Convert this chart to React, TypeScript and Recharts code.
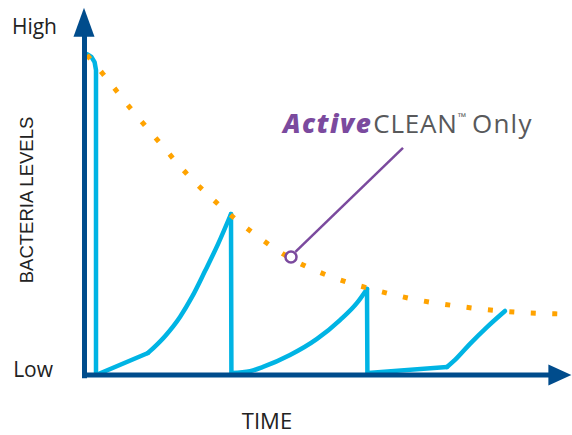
import React from "react";
import {
  LineChart,
  Line,
  XAxis,
  YAxis,
  ReferenceLine,
  ReferenceDot,
} from "recharts";

// time runs 0..120, bacteria level 0 (Low) .. 100 (High)
const timeDomain = [0, 120];
const levelDomain = [0, 100];
const levelTicks = [0, 100];
const levelTickLabels = ["Low", "High"];

// cyan: cleaning cycles (sawtooth)
const startDrop = [
  { t: 0.5, L: 91.7 },
  { t: 1.6, L: 90.9 },
  { t: 2.4, L: 89.4 },
  { t: 2.75, L: 87.1 },
  { t: 2.75, L: 0 },
];
const lead1 = [
  { t: 2.75, L: 0 },
  { t: 15.75, L: 6.3 },
];
const rise1 = [
  { t: 15.75, L: 6.3 },
  { t: 20, L: 11.1 },
  { t: 23.75, L: 16.6 },
  { t: 26.75, L: 22.3 },
  { t: 30, L: 29.7 },
  { t: 33.25, L: 37.4 },
  { t: 36.5, L: 46 },
];
const drop1 = [
  { t: 36.5, L: 46 },
  { t: 36.6, L: 0.6 },
];
const rise2 = [
  { t: 36.75, L: 0.6 },
  { t: 41.25, L: 1.1 },
  { t: 44.5, L: 2.3 },
  { t: 51.25, L: 5.7 },
  { t: 58, L: 10.3 },
  { t: 63.75, L: 15.7 },
  { t: 68, L: 20.6 },
  { t: 70.5, L: 24.6 },
];
const drop2 = [
  { t: 70.5, L: 24.6 },
  { t: 70.6, L: 0.6 },
];
const lead3 = [
  { t: 70.75, L: 0.6 },
  { t: 90.5, L: 2.3 },
];
const rise3 = [
  { t: 90.5, L: 2.3 },
  { t: 92.5, L: 4.3 },
  { t: 96.25, L: 8.9 },
  { t: 100.5, L: 13.7 },
  { t: 105, L: 18.3 },
];

// orange dotted: ActiveCLEAN only
const activeOnly = [
  { t: 0.5, L: 91.4 },
  { t: 4.5, L: 86 },
  { t: 11.5, L: 76 },
  { t: 18.5, L: 66.6 },
  { t: 25.75, L: 57.1 },
  { t: 33.5, L: 48.6 },
  { t: 42, L: 40.6 },
  { t: 51.25, L: 33.4 },
  { t: 61, L: 28.3 },
  { t: 71.5, L: 24.6 },
  { t: 82, L: 21.7 },
  { t: 93, L: 19.7 },
  { t: 103.75, L: 18.3 },
  { t: 120, L: 17.4 },
];

const calloutPoint = { t: 51.5, L: 33.7 };
const calloutLine = [
  { x: 52.6, y: 35.2 },
  { x: 79.5, y: 64.9 },
];
const calloutText = { t: 49.5, L: 69.1 };

const AXIS = "#004c8c";
const CYAN = "#00b4e4";
const ORANGE = "#ffa300";
const PURPLE = "#7b4a9e";
const GREY = "#58595b";

function LevelTick({ x, y, payload }: any) {
  const i = levelTicks.indexOf(payload.value);
  const low = i === 0;
  return (
    <text
      x={x - (low ? 4 : 0)}
      y={y + (low ? 2 : 8.5)}
      textAnchor="end"
      fontFamily="'Open Sans', sans-serif"
      fontSize={21}
      fill="#222"
    >
      {levelTickLabels[i]}
    </text>
  );
}

const UpArrow = ({ cx, cy }: any) => (
  <polygon points={`${cx},${cy} ${cx - 10.5},${cy + 29} ${cx + 10.5},${cy + 29}`} fill={AXIS} />
);
const RightArrow = ({ cx, cy }: any) => (
  <polygon points={`${cx},${cy} ${cx - 23},${cy - 10.5} ${cx - 23},${cy + 10.5}`} fill={AXIS} />
);

const CalloutLabel = ({ cx, cy }: any) => (
  <text x={cx} y={cy} fontFamily="'Open Sans', sans-serif" fontSize={26} fill={GREY}>
    <tspan fill={PURPLE} fontWeight={800} fontStyle="italic" letterSpacing={1.5}>
      Active
    </tspan>
    <tspan dx={1} letterSpacing={0.8}>CLEAN</tspan>
    <tspan fontSize={11} dy={-12}>
      ™
    </tspan>
    <tspan dy={12} dx={6} letterSpacing={1.2}>
      Only
    </tspan>
  </text>
);

const cyanProps = {
  dataKey: "L",
  stroke: CYAN,
  strokeWidth: 4.5,
  strokeLinecap: "round" as const,
  strokeLinejoin: "round" as const,
  dot: false,
  isAnimationActive: false,
};

export default function App() {
  return (
    <div style={{ position: "absolute", left: 0, top: 0, background: "#fff" }}>
      <LineChart width={572} height={435} margin={{ top: 25, right: 7, bottom: 0, left: 0 }}>
        <XAxis
          type="number"
          dataKey="t"
          domain={timeDomain}
          allowDataOverflow
          height={60}
          tick={false}
          tickLine={false}
          axisLine={false}
          label={{
            content: ({ viewBox }: any) => (
              <text
                x={viewBox.x + 182}
                y={429}
                textAnchor="middle"
                fontFamily="'Open Sans', sans-serif"
                fontSize={22}
                fill="#222"
              >
                TIME
              </text>
            ),
          }}
        />
        <YAxis
          type="number"
          dataKey="L"
          domain={levelDomain}
          allowDataOverflow
          ticks={levelTicks}
          width={85}
          tickSize={0}
          tickMargin={28}
          tickLine={false}
          axisLine={false}
          tick={<LevelTick />}
          label={{
            content: () => (
              <text
                x={33}
                y={200}
                textAnchor="middle"
                transform="rotate(-90, 33, 200)"
                fontFamily="'Liberation Sans', Arial, sans-serif"
                fontSize={18.5}
                fill="#222"
              >
                BACTERIA LEVELS
              </text>
            ),
          }}
        />

        <Line data={startDrop} type="linear" {...cyanProps} />
        <Line data={lead1} type="linear" {...cyanProps} />
        <Line data={rise1} type="monotone" {...cyanProps} />
        <Line data={drop1} type="linear" {...cyanProps} />
        <Line data={rise2} type="monotone" {...cyanProps} />
        <Line data={drop2} type="linear" {...cyanProps} />
        <Line data={lead3} type="linear" {...cyanProps} />
        <Line data={rise3} type="monotone" {...cyanProps} />

        <Line data={activeOnly} dataKey="L" type="monotone" stroke={ORANGE} strokeWidth={5} strokeDasharray="5 16.5" dot={false} isAnimationActive={false} />

        <ReferenceLine segment={[{ x: -0.75, y: 0 }, { x: 116.5, y: 0 }]} stroke={AXIS} strokeWidth={5} ifOverflow="visible" />
        <ReferenceLine segment={[{ x: -0.125, y: -0.9 }, { x: -0.125, y: 97 }]} stroke={AXIS} strokeWidth={5} ifOverflow="visible" />
        <ReferenceDot x={-0.25} y={104.9} r={0} shape={<UpArrow />} ifOverflow="visible" />
        <ReferenceDot x={121.6} y={0} r={0} shape={<RightArrow />} ifOverflow="visible" />

        <ReferenceLine segment={calloutLine} stroke={PURPLE} strokeWidth={2.5} ifOverflow="visible" />
        <ReferenceDot x={calloutPoint.t} y={calloutPoint.L} r={5.5} fill="none" stroke={PURPLE} strokeWidth={2.5} />
        <ReferenceDot x={calloutText.t} y={calloutText.L} r={0} shape={<CalloutLabel />} ifOverflow="visible" />
      </LineChart>
    </div>
  );
}
